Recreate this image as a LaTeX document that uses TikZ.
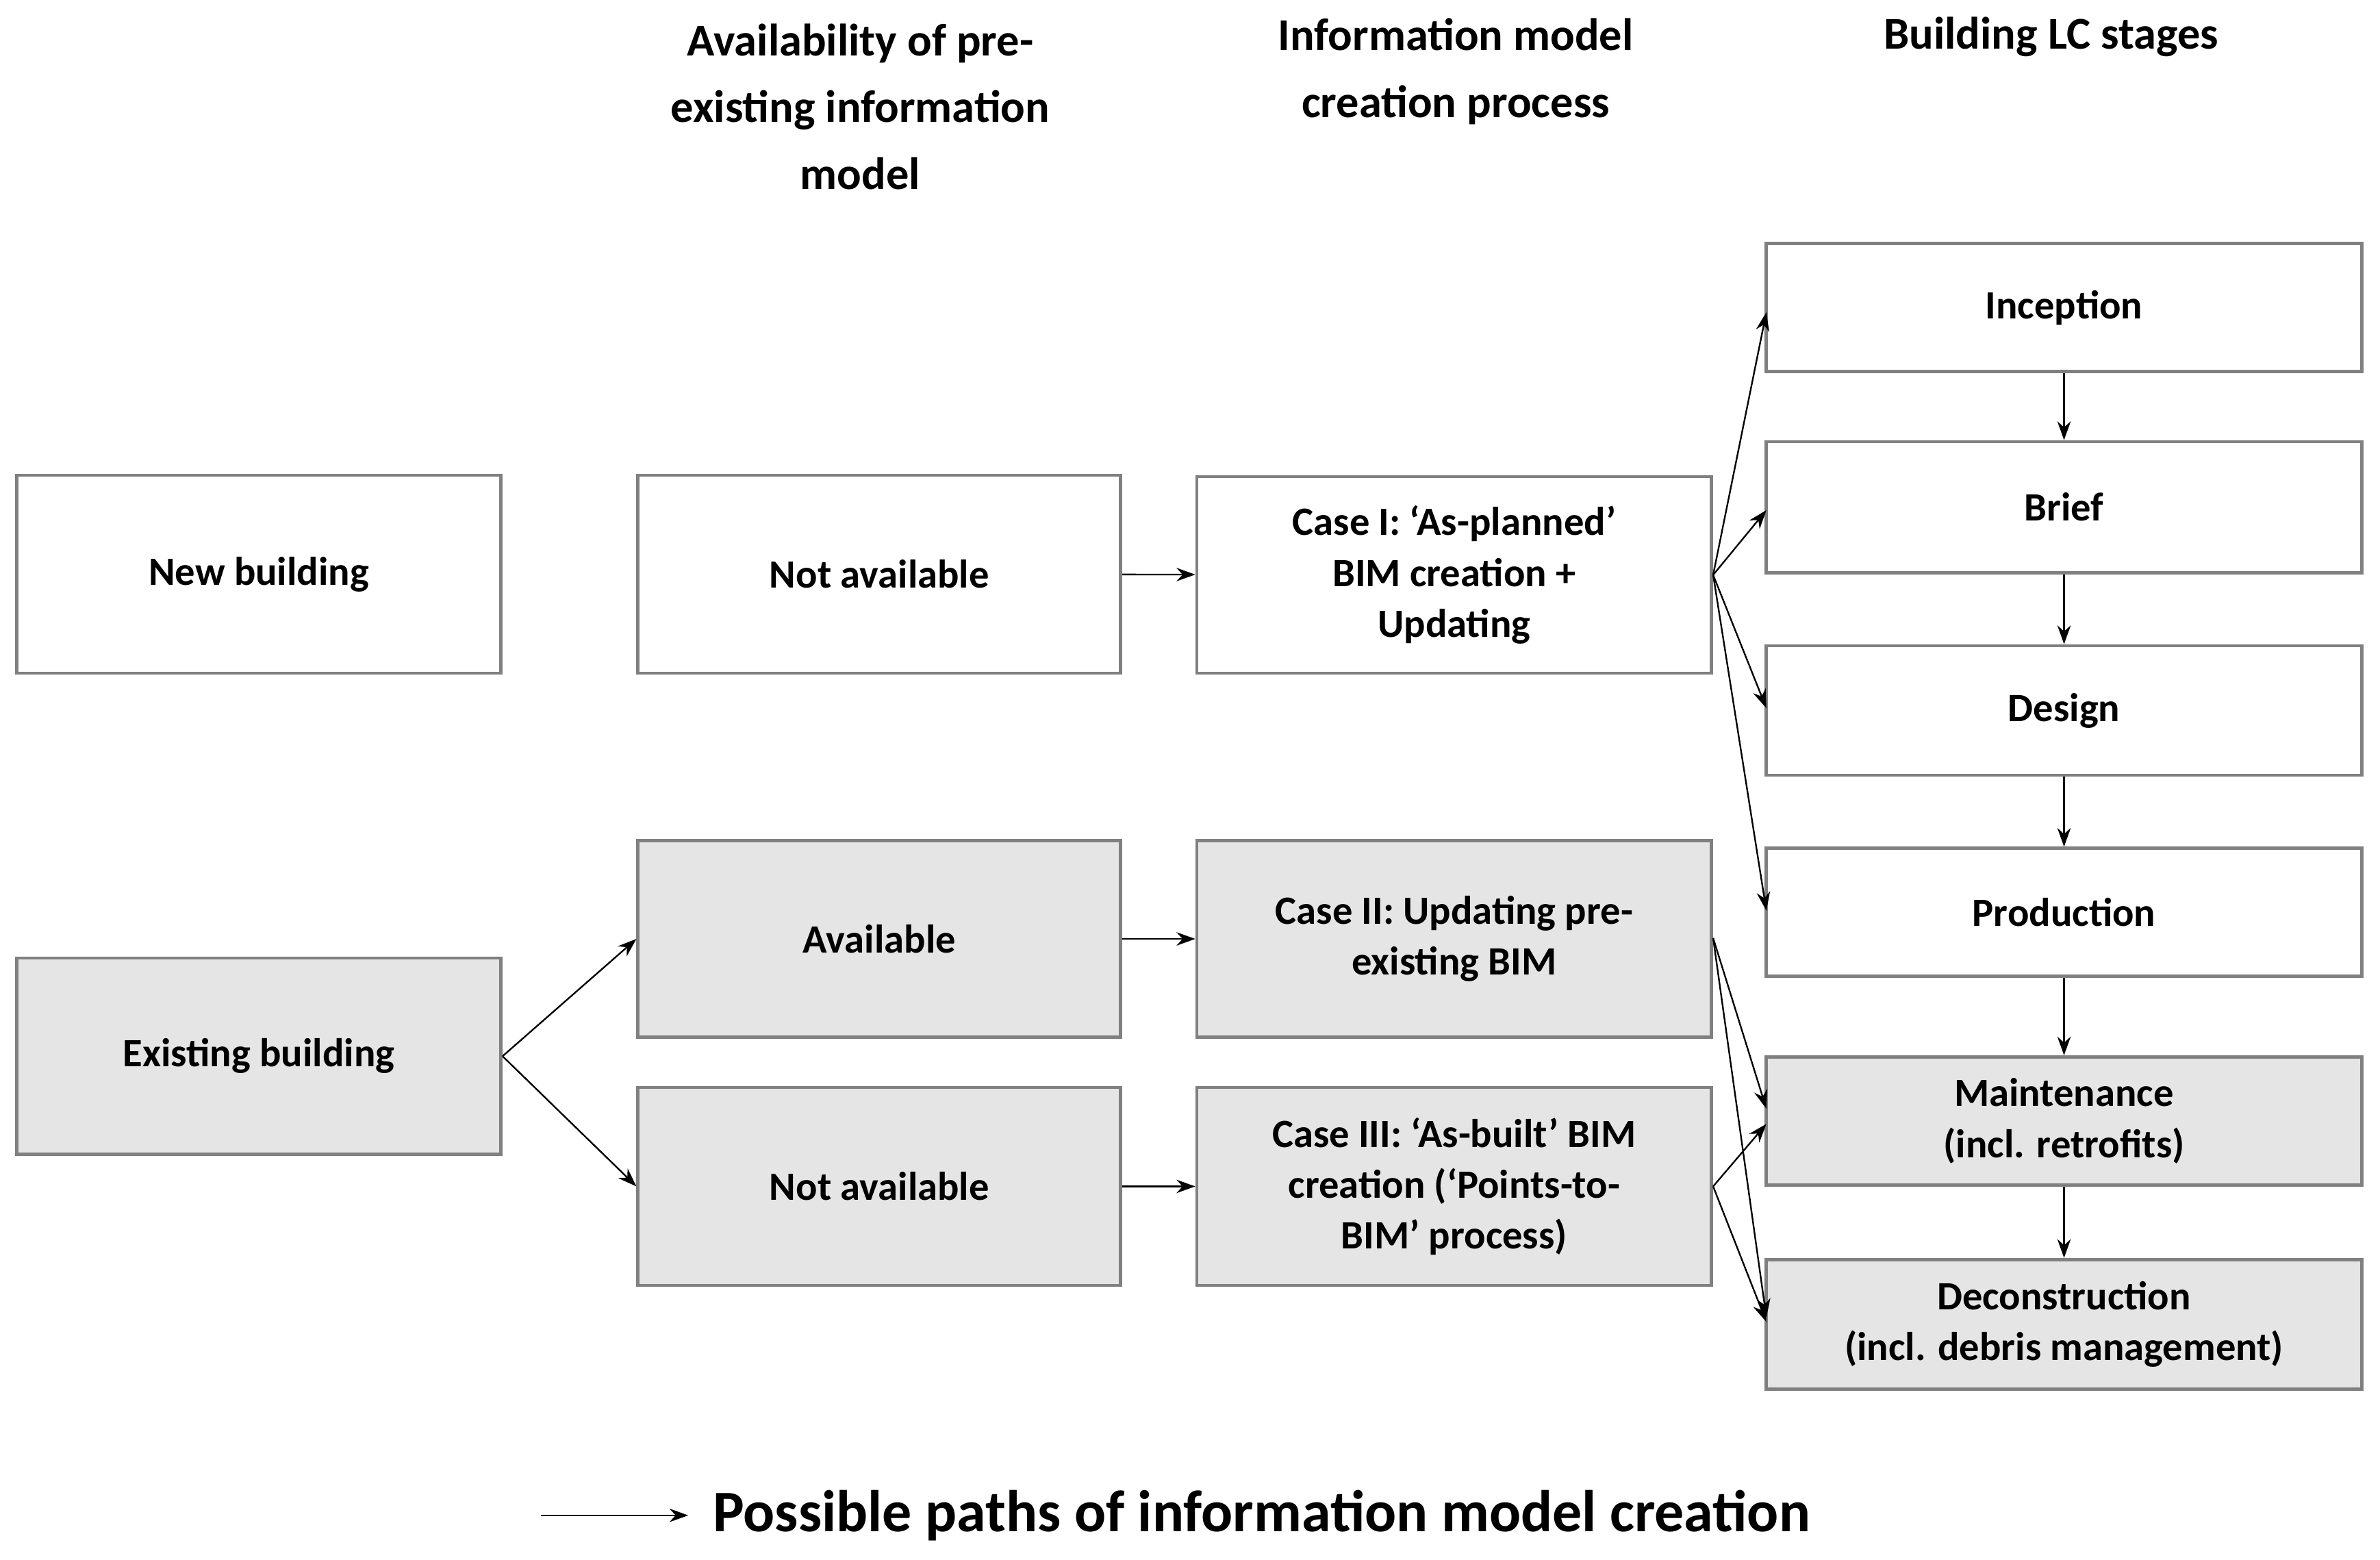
\documentclass[tikz,border=0pt]{standalone}
\usepackage{fontspec}
\setmainfont{Carlito}
\usetikzlibrary{arrows.meta}
\begin{document}
\begin{tikzpicture}[x=0.02cm,y=-0.02cm,
 box/.style={draw=black!50,line width=1.2pt,align=center,font=\fontsize{15}{19}\selectfont\bfseries,inner sep=0pt},
 g/.style={fill=black!10},
 hd/.style={align=center,font=\fontsize{17}{25}\selectfont\bfseries},
 arr/.style={-{Stealth[length=7pt,width=5pt]},line width=0.6pt}]
\useasboundingbox (0,0) rectangle (1563,1024);
\newcommand{\bx}[6]{\node[box,#6,minimum width=(#3-#2)*0.02cm,minimum height=(#5-#4)*0.02cm] (#1) at ({(#2+#3)/2},{(#4+#5)/2}) {\strut};}
\newcommand{\bxt}[7]{\node[box,#6,minimum width=(#3-#2)*0.02cm,minimum height=(#5-#4)*0.02cm] (#1) at ({(#2+#3)/2},{(#4+#5)/2}) {#7};}
\bxt{nb}{11}{329}{312}{442}{}{New building}
\bxt{eb}{11}{329}{629}{758}{g}{Existing building}
\bxt{na1}{419}{736}{312}{442}{}{Not available}
\bxt{av}{419}{736}{552}{681}{g}{Available}
\bxt{na2}{419}{736}{714}{844}{g}{Not available}
\bxt{c1}{786}{1124}{313}{442}{}{Case I: ‘As-planned’\\BIM creation +\\Updating}
\bxt{c2}{786}{1124}{552}{681}{g}{Case II: Updating pre-\\existing BIM}
\bxt{c3}{786}{1124}{714}{844}{g}{Case III: ‘As-built’ BIM\\creation (‘Points-to-\\BIM’ process)}
\bxt{in}{1160}{1551}{160}{244}{}{Inception}
\bxt{br}{1160}{1551}{290}{376}{}{Brief}
\bxt{de}{1160}{1551}{424}{509}{}{Design}
\bxt{pr}{1160}{1551}{557}{641}{}{Production}
\bxt{ma}{1160}{1551}{694}{778}{g}{Maintenance\\(incl. retrofits)}
\bxt{dc}{1160}{1551}{827}{912}{g}{Deconstruction\\(incl. debris management)}
\node[hd] (h1) at (565,70) {Availability of pre-\\existing information\\model};
\node[hd] (h2) at (956,47) {Information model\\creation process};
\node[hd] (h3) at (1347,24) {Building LC stages};
\draw[arr] (na1) -- (c1);
\draw[arr] (av) -- (c2);
\draw[arr] (na2) -- (c3);
\draw[arr] (eb.east) -- (av.west);
\draw[arr] (eb.east) -- (na2.west);
\foreach \t/\y in {in/205,br/335,de/465,pr/598} \draw[arr] (c1.east) -- (1160,\y);
\draw[arr] (c2.north east) ++(0,65) coordinate (c2e) -- (1160,728);
\draw[arr] (c2e) -- (1160,865);
\draw[arr] (c3.east) -- (1160,738);
\draw[arr] (c3.east) -- (1160,868);
\draw[arr] (in) -- (br); \draw[arr] (br) -- (de); \draw[arr] (de) -- (pr);
\draw[arr] (pr) -- (ma); \draw[arr] (ma) -- (dc);
\coordinate (l1) at (355,995); \coordinate (l2) at (452,995);
\draw[arr] (l1) -- (l2);
\node[anchor=west,font=\fontsize{22}{26}\selectfont\bfseries] (lg) at (462,995) {Possible paths of information model creation};
\end{tikzpicture}
\end{document}
